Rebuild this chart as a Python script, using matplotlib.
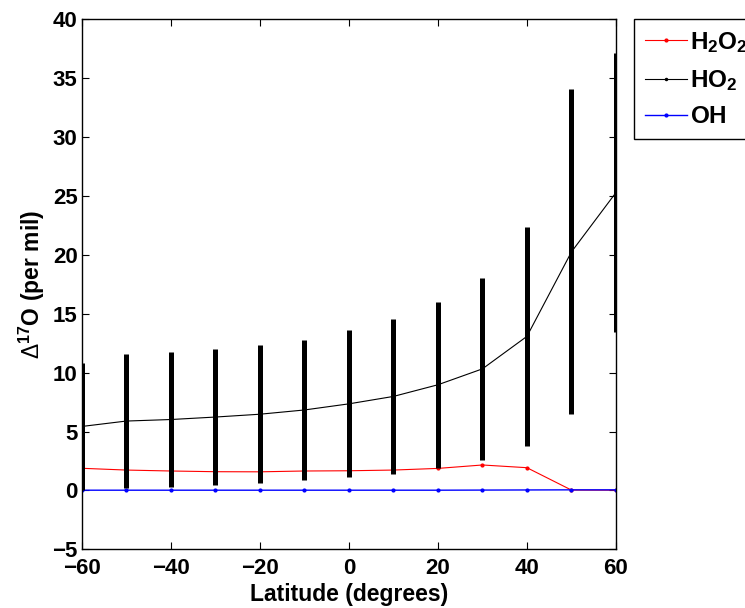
import numpy as np
import matplotlib
matplotlib.use("Agg")
import matplotlib.pyplot as plt

plt.rcParams["font.family"] = ["Liberation Sans", "DejaVu Sans"]
plt.rcParams["mathtext.fontset"] = "custom"
plt.rcParams["mathtext.rm"] = "Liberation Sans"
plt.rcParams["mathtext.bf"] = "Liberation Sans:bold"

# latitude grid (degrees)
lat = [-60, -50, -40, -30, -20, -10, 0, 10, 20, 30, 40, 50, 60]

# Delta 17O (per mil)
h2o2 = [1.88, 1.73, 1.65, 1.59, 1.58, 1.65, 1.67, 1.73, 1.87, 2.16, 1.93, 0.03, 0.02]
ho2 = [5.43, 5.89, 6.02, 6.23, 6.47, 6.83, 7.35, 7.98, 8.97, 10.32, 13.08, 20.25, 25.29]
oh = [0.02, 0.02, 0.02, 0.02, 0.02, 0.02, 0.02, 0.02, 0.02, 0.03, 0.04, 0.05, 0.05]

# half-width of the HO2 uncertainty bars
ho2_err = [5.40, 5.69, 5.70, 5.75, 5.85, 5.95, 6.24, 6.57, 7.05, 7.74, 9.31, 13.8, 11.87]

fig = plt.figure(figsize=(7.45, 6.08), dpi=100)
ax = fig.add_axes([0.1097, 0.0965, 0.8268 - 0.1097, 0.9683 - 0.0965])

ax.plot(lat, h2o2, ".-", color="red", lw=0.8, ms=4, label=r"$\mathbf{H_2O_2}$", zorder=2)
ax.plot(lat, ho2, ".-", color="black", lw=0.8, ms=3, label=r"$\mathbf{HO_2}$", zorder=2)
ax.plot(lat, oh, ".-", color="blue", lw=1.0, ms=4, label=r"$\mathbf{OH}$", zorder=2)
ax.errorbar(lat, ho2, yerr=ho2_err, fmt="none", ecolor="black", elinewidth=3.6,
            capsize=0, zorder=3)

ax.set_xlim(-60, 60)
ax.set_ylim(-5, 40)
ax.set_xticks(np.arange(-60, 61, 20))
ax.set_yticks(np.arange(-5, 41, 5))
ax.tick_params(direction="in", top=True, right=True, length=5, width=0.8,
               labelsize=16)
ax.tick_params(axis="x", pad=6)
ax.tick_params(axis="y", pad=3)
for lab in ax.get_xticklabels() + ax.get_yticklabels():
    lab.set_fontweight("bold")
for s in ax.spines.values():
    s.set_linewidth(1.0)

ax.set_xlabel("Latitude (degrees)", fontsize=16.5, fontweight="bold", labelpad=3)
ax.set_ylabel(r"$\Delta^{\mathbf{17}}$O (per mil)", fontsize=16.5, fontweight="bold",
              labelpad=4)

leg = fig.legend(loc="upper left", bbox_to_anchor=(634 / 745, 1 - 19 / 608),
                 fontsize=17.5, frameon=True, fancybox=False, framealpha=1,
                 edgecolor="black", handlelength=1.75, borderaxespad=0,
                 borderpad=0.45, labelspacing=0.55, handletextpad=0.1)
leg.get_frame().set_linewidth(1.0)

fig.savefig("out.png", dpi=100)
